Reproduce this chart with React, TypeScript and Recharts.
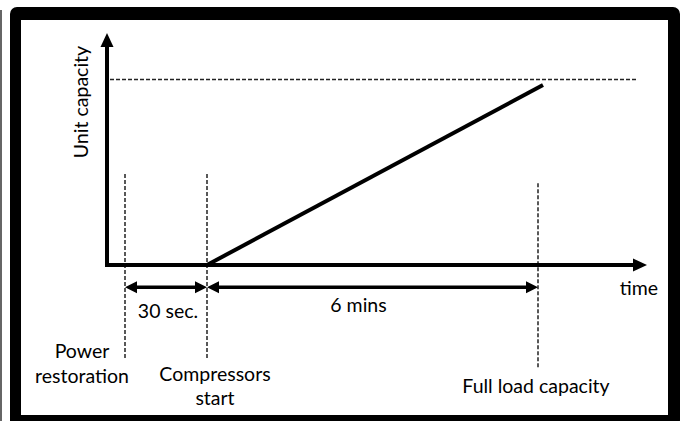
import { LineChart, Line, XAxis, YAxis, ReferenceLine } from "recharts";

// schematic units: time axis 0..540, capacity axis 0..125
const rampTime = [100, 436];
const rampCapacity = [0, 97];
const fullCapacity = 100;
const axisMax = { time: 540, capacity: 125 };

const eventNames = [["Power", "restoration"], ["Compressors", "start"], ["Full load capacity"]];
const eventTimes = [18, 100, 431];
const eventTop = [49, 49, 44];
const eventBottom = [-51, -51, -56];

const spanLabels = ["30 sec.", "6 mins"];
const spanStart = [18, 100];
const spanEnd = [100, 431];
const spanLevel = -12;

const data = rampTime.map((t, i) => ({ t, cap: rampCapacity[i] }));

const FONT = "Lato, 'Open Sans', sans-serif";
const FS = 19.5;
const INK = "#000";
const DASH = "#222";

// label offsets (px) relative to the bottom end of each event line
const eventLabelPos = [
  { dx: -43, dy: [-2, 23] },
  { dx: 8, dy: [21, 45] },
  { dx: -2, dy: [24] },
];
const spanLabelPos = [
  { dx: 2, dy: 31 },
  { dx: -14, dy: 25 },
];

function head(x: number, y: number, ux: number, uy: number, len: number, half: number) {
  const bx = x - ux * len;
  const by = y - uy * len;
  return `${x},${y} ${bx - uy * half},${by + ux * half} ${bx + uy * half},${by - ux * half}`;
}

function AxisArrow(p: any) {
  const { x1, y1, x2, y2 } = p;
  const d = Math.hypot(x2 - x1, y2 - y1) || 1;
  const ux = (x2 - x1) / d;
  const uy = (y2 - y1) / d;
  return (
    <g>
      <line x1={x1 - ux * 2} y1={y1 - uy * 2} x2={x2 - ux * 10} y2={y2 - uy * 10} stroke={INK} strokeWidth={4} />
      <polygon points={head(x2, y2, ux, uy, 14, 6.5)} fill={INK} />
    </g>
  );
}

function SpanArrow(p: any, i: number) {
  const { x1, y1, x2, y2 } = p;
  const pos = spanLabelPos[i];
  return (
    <g>
      <line x1={x1 + 9} y1={y1} x2={x2 - 9} y2={y2} stroke={INK} strokeWidth={3.5} />
      <polygon points={head(x1, y1, -1, 0, 12, 6)} fill={INK} />
      <polygon points={head(x2, y2, 1, 0, 12, 6)} fill={INK} />
      <text x={(x1 + x2) / 2 + pos.dx} y={y1 + pos.dy} textAnchor="middle" fontFamily={FONT} fontSize={FS} fill={INK}>
        {spanLabels[i]}
      </text>
    </g>
  );
}

function EventLine(p: any, i: number) {
  const { x1, y1, x2, y2 } = p;
  const pos = eventLabelPos[i];
  return (
    <g>
      <line x1={x1} y1={y1} x2={x2} y2={y2} stroke={DASH} strokeWidth={1.5} strokeDasharray="4 2" />
      {eventNames[i].map((s, k) => (
        <text key={k} x={x2 + pos.dx} y={y2 + pos.dy[k]} textAnchor="middle" fontFamily={FONT} fontSize={FS} fill={INK}>
          {s}
        </text>
      ))}
    </g>
  );
}

function FullLine(p: any) {
  const { x1, y1, x2, y2 } = p;
  return <line x1={x1} y1={y1} x2={x2} y2={y2} stroke={DASH} strokeWidth={1.5} strokeDasharray="4 2" />;
}

function XArrow(p: any) {
  return (
    <g>
      {AxisArrow(p)}
      <text x={p.x2 - 8} y={p.y2 + 30} textAnchor="middle" fontFamily={FONT} fontSize={FS} fill={INK}>
        time
      </text>
    </g>
  );
}

function YArrow(p: any) {
  const tx = p.x2 - 19;
  const ty = p.y2 + 69;
  return (
    <g>
      {AxisArrow(p)}
      <text x={tx} y={ty} transform={`rotate(-90 ${tx} ${ty})`} textAnchor="middle" fontFamily={FONT} fontSize={FS} fill={INK}>
        Unit capacity
      </text>
    </g>
  );
}

export default function App() {
  return (
    <div style={{ position: "absolute", left: 0, top: 0, width: 684, height: 421, overflow: "hidden", background: "#fff" }}>
      <div style={{ position: "absolute", left: 0, top: 10, width: 2, height: 420, background: "#666" }} />
      <div
        style={{
          position: "absolute",
          left: 10,
          top: 7,
          width: 670,
          height: 420,
          boxSizing: "border-box",
          borderStyle: "solid",
          borderColor: "#000",
          borderWidth: "13px 12px 12px 11px",
          borderRadius: 7,
          background: "#fff",
        }}
      />
      <div style={{ position: "absolute", left: 0, top: 0 }}>
        <LineChart width={684} height={421} data={data} margin={{ top: 33, right: 37, bottom: 156, left: 107 }}>
          <XAxis dataKey="t" type="number" domain={[0, axisMax.time]} hide />
          <YAxis type="number" domain={[0, axisMax.capacity]} hide />
          <ReferenceLine
            segment={[{ x: 3, y: fullCapacity }, { x: 530, y: fullCapacity }]}
            ifOverflow="visible"
            shape={FullLine}
          />
          {eventTimes.map((t, i) => (
            <ReferenceLine
              key={"e" + i}
              segment={[{ x: t, y: eventTop[i] }, { x: t, y: eventBottom[i] }]}
              ifOverflow="visible"
              shape={(p: any) => EventLine(p, i)}
            />
          ))}
          {spanLabels.map((_, i) => (
            <ReferenceLine
              key={"s" + i}
              segment={[{ x: spanStart[i], y: spanLevel }, { x: spanEnd[i], y: spanLevel }]}
              ifOverflow="visible"
              shape={(p: any) => SpanArrow(p, i)}
            />
          ))}
          <ReferenceLine segment={[{ x: 0, y: 0 }, { x: axisMax.time, y: 0 }]} ifOverflow="visible" shape={XArrow} />
          <ReferenceLine segment={[{ x: 0, y: 0 }, { x: 0, y: axisMax.capacity }]} ifOverflow="visible" shape={YArrow} />
          <Line dataKey="cap" type="linear" stroke={INK} strokeWidth={4} dot={false} isAnimationActive={false} />
        </LineChart>
      </div>
    </div>
  );
}
